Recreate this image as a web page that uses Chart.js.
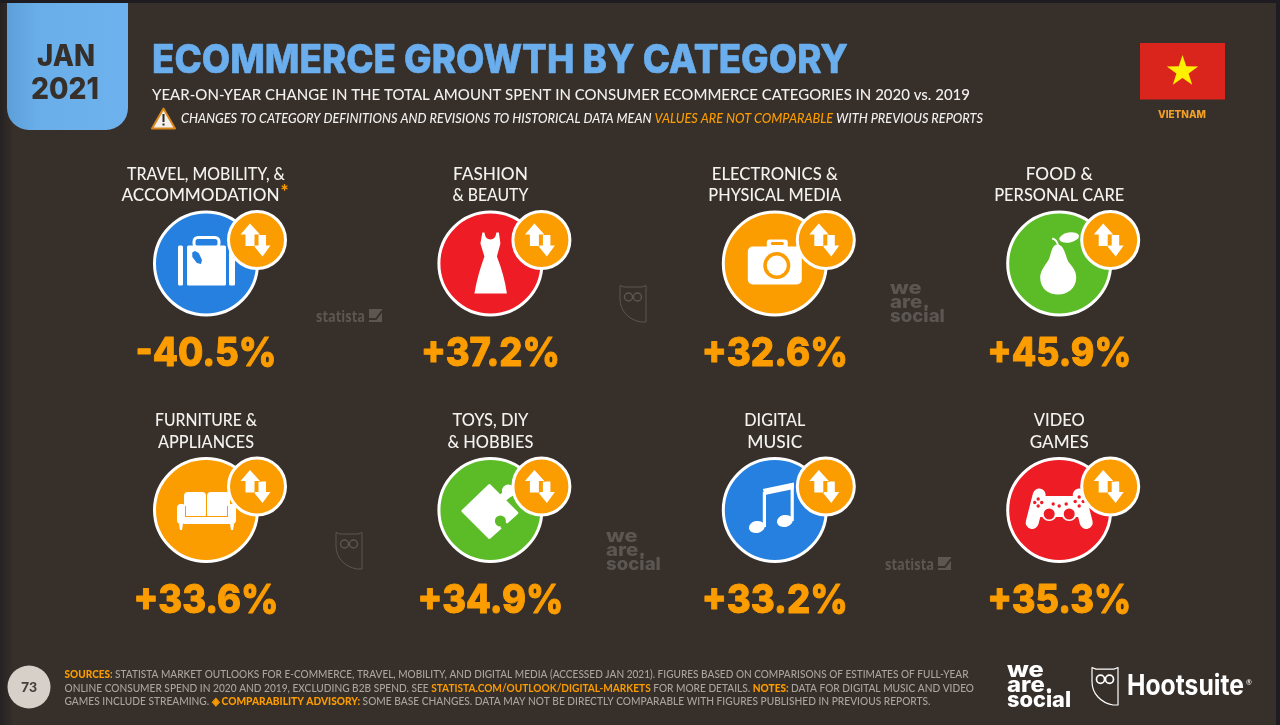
<!DOCTYPE html>
<html>
<head>
<meta charset="utf-8">
<title>Ecommerce growth by category</title>
<script src="https://cdn.jsdelivr.net/npm/chart.js@4/dist/chart.umd.js"></script>
<style>
  html, body { margin: 0; padding: 0; background: #362f2a; overflow: hidden; }
  canvas { display: block; }
</style>
</head>
<body>
<canvas id="growthChart" width="1280" height="725"></canvas>
<script>
// chart data
var categories = [
  ["TRAVEL, MOBILITY, &", "ACCOMMODATION"],
  ["FASHION", "& BEAUTY"],
  ["ELECTRONICS &", "PHYSICAL MEDIA"],
  ["FOOD &", "PERSONAL CARE"],
  ["FURNITURE &", "APPLIANCES"],
  ["TOYS, DIY", "& HOBBIES"],
  ["DIGITAL", "MUSIC"],
  ["VIDEO", "GAMES"]
];
var changeValues = [-40.5, 37.2, 32.6, 45.9, 33.6, 34.9, 33.2, 35.3];
var circleColors = ["#2580e0", "#ee1c24", "#fb9c00", "#5cbc28", "#fb9c00", "#5cbc28", "#2580e0", "#ee1c24"];
var iconNames = ["suitcase", "dress", "camera", "pear", "sofa", "puzzle", "note", "gamepad"];

// text fitting, the fonts here are wider than the original one
var labelWidths = [[158, 158], [75, 76], [126, 133], [67, 130], [102, 96], [76, 86], [61, 55], [51, 59]];
var valueWidths = [141, 139, 146, 144, 145, 146, 146, 144];

var ORANGE = "#fb9c00", BG = "#362f2a", WHITE = "#ffffff", GREY = "#a9a49e", MARK = "#5b5652";
var SANS = "Lato, sans-serif", HEAVY = "Inter, sans-serif";

// grid of the page, one scale unit is one column / row
var COL0 = 206, COL_W = 284.4, ROW0 = 263.5, ROW_H = 246.5;
var BADGE_DX = 51, BADGE_DY = -23.5;

function label(ctx, text, x, y, font, color, align, width, bold) {
  ctx.save();
  ctx.font = font;
  ctx.fillStyle = color;
  ctx.textBaseline = "alphabetic";
  ctx.textAlign = "left";
  var w = ctx.measureText(text).width;
  var k = width ? width / w : 1;
  var left = align === "center" ? x - w * k / 2 : x;
  ctx.translate(left, y);
  ctx.scale(k, 1);
  if (bold) {
    ctx.strokeStyle = color;
    ctx.lineWidth = bold;
    ctx.lineJoin = "round";
    ctx.strokeText(text, 0, 0);
  }
  ctx.fillText(text, 0, 0);
  ctx.restore();
}

// one line with several colours, squeezed to the given width
function richLine(ctx, parts, x, y, width) {
  ctx.save();
  ctx.textBaseline = "alphabetic";
  ctx.textAlign = "left";
  var total = 0;
  parts.forEach(function(p) { ctx.font = p[2]; total += ctx.measureText(p[0]).width; });
  ctx.translate(x, y);
  ctx.scale(width / total, 1);
  var pos = 0;
  parts.forEach(function(p) {
    ctx.font = p[2];
    ctx.fillStyle = p[1];
    ctx.fillText(p[0], pos, 0);
    pos += ctx.measureText(p[0]).width;
  });
  ctx.restore();
}

function poly(ctx, pts) {
  ctx.beginPath();
  pts.forEach(function(p, i) { i ? ctx.lineTo(p[0], p[1]) : ctx.moveTo(p[0], p[1]); });
  ctx.closePath();
}

function rrect(ctx, x, y, w, h, r) {
  ctx.beginPath();
  ctx.roundRect(x, y, w, h, r);
}

var icons = {
  suitcase: function(ctx, color) {
    rrect(ctx, -19, -18, 39, 40, 1.5); ctx.fill();
    rrect(ctx, -28, -18, 5, 40, 1.5); ctx.fill();
    rrect(ctx, 23, -18, 6, 40, 1.5); ctx.fill();
    ctx.strokeStyle = WHITE; ctx.lineWidth = 3;
    rrect(ctx, -12, -26, 25, 10, 4); ctx.stroke();
    ctx.save();
    ctx.fillStyle = color;
    ctx.translate(-9, -6); ctx.rotate(-0.55); ctx.scale(0.75, 0.95);
    ctx.beginPath();
    ctx.moveTo(-2, -7); ctx.lineTo(2, -7); ctx.lineTo(5, -3); ctx.lineTo(4, 5);
    ctx.lineTo(0, 8); ctx.lineTo(-4, 5); ctx.lineTo(-5, -3); ctx.closePath();
    ctx.fill();
    ctx.restore();
  },
  dress: function(ctx) {
    ctx.beginPath();
    ctx.moveTo(-8, -31); ctx.lineTo(-6, -31);
    ctx.quadraticCurveTo(-5, -24, 0, -24);
    ctx.quadraticCurveTo(5, -24, 6, -31);
    ctx.lineTo(8.5, -31); ctx.lineTo(10, -20); ctx.lineTo(6.5, -7);
    ctx.quadraticCurveTo(14, 12, 16.5, 30);
    ctx.lineTo(-16, 30);
    ctx.quadraticCurveTo(-13, 12, -6, -7);
    ctx.lineTo(-10, -20);
    ctx.closePath(); ctx.fill();
  },
  camera: function(ctx, color) {
    rrect(ctx, -27, -17, 54, 38, 5); ctx.fill();
    rrect(ctx, -8, -24, 21, 10, 3); ctx.fill();
    ctx.fillStyle = color;
    rrect(ctx, -4, -21.5, 13, 3, 1.5); ctx.fill();
    ctx.beginPath(); ctx.arc(2, 2, 13.5, 0, Math.PI * 2); ctx.fill();
    ctx.fillStyle = WHITE;
    ctx.beginPath(); ctx.arc(2, 2, 10, 0, Math.PI * 2); ctx.fill();
  },
  pear: function(ctx) {
    ctx.beginPath();
    ctx.moveTo(-2, -19);
    ctx.bezierCurveTo(5, -19, 6, -8, 9, -2);
    ctx.bezierCurveTo(14, 4, 17, 8, 17, 14);
    ctx.bezierCurveTo(17, 25, 8, 31, -1, 31);
    ctx.bezierCurveTo(-11, 31, -19, 25, -19, 14);
    ctx.bezierCurveTo(-19, 8, -15, 3, -11, -3);
    ctx.bezierCurveTo(-8, -8, -8, -19, -2, -19);
    ctx.fill();
    ctx.save();
    ctx.translate(10, -26); ctx.rotate(-0.2);
    ctx.beginPath(); ctx.ellipse(0, 0, 10, 5, 0, 0, Math.PI * 2); ctx.fill();
    ctx.restore();
    ctx.strokeStyle = WHITE; ctx.lineWidth = 1.8;
    ctx.beginPath(); ctx.moveTo(-7, -25); ctx.quadraticCurveTo(-2, -24, -1, -17); ctx.stroke();
  },
  sofa: function(ctx, color) {
    rrect(ctx, -22, -18, 22, 26, 4); ctx.fill();
    rrect(ctx, 1, -18, 23, 26, 4); ctx.fill();
    rrect(ctx, -29, -6, 9, 20, 4); ctx.fill();
    rrect(ctx, 21, -6, 9, 20, 4); ctx.fill();
    ctx.fillRect(-22, 7, 46, 7);
    ctx.strokeStyle = color; ctx.lineWidth = 1;
    ctx.beginPath();
    ctx.moveTo(-20, 6.5); ctx.lineTo(21, 6.5);
    ctx.moveTo(-20.5, -4); ctx.lineTo(-20.5, 7);
    ctx.moveTo(21.5, -4); ctx.lineTo(21.5, 7);
    ctx.stroke();
    poly(ctx, [[-27, 14], [-23, 14], [-24, 20], [-26, 20]]); ctx.fill();
    poly(ctx, [[24, 14], [28, 14], [27, 20], [25, 20]]); ctx.fill();
  },
  puzzle: function(ctx, color) {
    ctx.lineJoin = "round"; ctx.strokeStyle = WHITE; ctx.lineWidth = 3;
    poly(ctx, [[-27.5, 1], [-1, -24.5], [26.5, 3], [-1, 27.5]]); ctx.fill(); ctx.stroke();
    ctx.beginPath(); ctx.arc(18, -19, 6.5, 0, Math.PI * 2); ctx.fill();
    poly(ctx, [[9, -15], [15, -20], [20, -13], [14, -8]]); ctx.fill();
    ctx.fillStyle = color;
    ctx.beginPath(); ctx.arc(10, 11, 5.5, 0, Math.PI * 2); ctx.fill();
    poly(ctx, [[10, 17], [15, 12], [22, 19], [16, 25]]); ctx.fill();
  },
  note: function(ctx) {
    ctx.save();
    ctx.translate(-18, 17); ctx.rotate(-0.2);
    ctx.beginPath(); ctx.ellipse(0, 0, 8, 6, 0, 0, Math.PI * 2); ctx.fill();
    ctx.restore();
    ctx.save();
    ctx.translate(10, 11); ctx.rotate(-0.2);
    ctx.beginPath(); ctx.ellipse(0, 0, 8, 6, 0, 0, Math.PI * 2); ctx.fill();
    ctx.restore();
    ctx.fillRect(-12, -18, 3.2, 35);
    ctx.fillRect(15.8, -27, 3.2, 38);
    poly(ctx, [[-12, -21], [19, -27.5], [19, -21], [-10, -15]]); ctx.fill();
  },
  gamepad: function(ctx, color) {
    ctx.lineCap = "round"; ctx.strokeStyle = WHITE; ctx.lineWidth = 13;
    ctx.beginPath(); ctx.moveTo(-20, -15); ctx.lineTo(-27, 12.5); ctx.stroke();
    ctx.beginPath(); ctx.moveTo(20, -15); ctx.lineTo(27, 12.5); ctx.stroke();
    rrect(ctx, -22, -12, 44, 19, 3); ctx.fill();
    ctx.fillRect(-17, -14, 34, 6);
    ctx.fillStyle = WHITE;
    ctx.beginPath(); ctx.arc(-10, 3, 8, 0, Math.PI * 2); ctx.fill();
    ctx.beginPath(); ctx.arc(10, 3, 8, 0, Math.PI * 2); ctx.fill();
    ctx.fillStyle = color;
    [[-10, 4], [10, 4]].forEach(function(p) {
      ctx.beginPath(); ctx.arc(p[0], p[1], 5.5, 0, Math.PI * 2); ctx.fill();
    });
    [[-21, -11], [-21, -4], [-24.5, -7.5], [-17.5, -7.5], [20, -13], [20, -4], [16, -8.5], [24, -8.5], [0, -4], [-6, -6], [7, -6]].forEach(function(p) {
      ctx.beginPath(); ctx.arc(p[0], p[1], 1.7, 0, Math.PI * 2); ctx.fill();
    });
  }
};

function badgeArrows(ctx) {
  ctx.lineJoin = "miter";
  ctx.fillStyle = WHITE;
  ctx.strokeStyle = ORANGE;
  ctx.lineWidth = 1.2;
  poly(ctx, [[1.5, -5], [9, -5], [9, 5.5], [13.5, 5.5], [5.5, 16.5], [-3.5, 5.5], [1.5, 5.5]]);
  ctx.fill();
  poly(ctx, [[-7, -16.5], [3, -5.5], [-2.5, -5.5], [-2.5, 6], [-11.5, 6], [-11.5, -5.5], [-16.5, -5.5]]);
  ctx.stroke(); ctx.fill();
}

function owl(ctx, x, y, w, h, color, lw) {
  ctx.save();
  ctx.translate(x, y);
  ctx.scale(w / 26, h / 37);
  ctx.strokeStyle = color;
  ctx.lineWidth = lw;
  ctx.beginPath();
  ctx.moveTo(0, 0.5); ctx.lineTo(4, 2); ctx.lineTo(22, 2); ctx.lineTo(26, 0.5);
  ctx.lineTo(26, 37); ctx.lineTo(21, 37);
  ctx.bezierCurveTo(9, 35, 0, 26, 0, 14);
  ctx.closePath();
  ctx.stroke();
  ctx.lineWidth = lw * 1.4;
  ctx.beginPath(); ctx.arc(8.5, 12, 4, 0, Math.PI * 2); ctx.stroke();
  ctx.beginPath(); ctx.arc(17.5, 12, 4, 0, Math.PI * 2); ctx.stroke();
  ctx.restore();
}

function weAreSocial(ctx, x, base, size, color, gap) {
  var font = "800 " + size + "px Inter, sans-serif";
  label(ctx, "we", x, base, font, color, "left", size * 1.75);
  label(ctx, "are.", x, base + gap, font, color, "left", size * 2.2);
  label(ctx, "social", x, base + gap * 2, font, color, "left", size * 3.05);
}

function statista(ctx, x, y, color) {
  label(ctx, "statista", x, y, "700 16px 'Open Sans', sans-serif", color, "left", 49);
  ctx.fillStyle = color;
  ctx.fillRect(x + 53, y - 13, 13, 13);
  ctx.strokeStyle = BG; ctx.lineWidth = 2;
  ctx.beginPath();
  ctx.moveTo(x + 53, y - 3); ctx.lineTo(x + 60, y - 3); ctx.lineTo(x + 66, y - 11);
  ctx.stroke();
}

var pagePlugin = {
  id: "page",
  beforeDraw: function(chart) {
    var ctx = chart.ctx;
    ctx.save();
    ctx.fillStyle = BG;
    ctx.fillRect(0, 0, 1280, 725);
    var edge = ctx.createLinearGradient(0, 0, 14, 0);
    edge.addColorStop(0, "#262223");
    edge.addColorStop(1, BG);
    ctx.fillStyle = edge;
    ctx.fillRect(0, 0, 14, 725);
    ctx.fillStyle = "#1e1c21";
    ctx.fillRect(0, 0, 1280, 3);
    ctx.fillRect(1276, 0, 4, 725);

    // date tab
    var tab = ctx.createLinearGradient(7, 0, 128, 0);
    tab.addColorStop(0, "#5c9fd8");
    tab.addColorStop(0.25, "#6aaee9");
    tab.addColorStop(1, "#6db1ee");
    ctx.fillStyle = tab;
    rrect(ctx, 7, 3, 121, 127, [0, 0, 22, 22]);
    ctx.fill();
    label(ctx, "JAN", 66, 66, "800 30px " + HEAVY, BG, "center", 58);
    label(ctx, "2021", 65, 99, "800 30px " + HEAVY, BG, "center", 68);

    // heading
    label(ctx, "ECOMMERCE GROWTH BY CATEGORY", 152, 73, "800 39px " + HEAVY, "#6aaeee", "left", 696, 0.6);
    label(ctx, "YEAR-ON-YEAR CHANGE IN THE TOTAL AMOUNT SPENT IN CONSUMER ECOMMERCE CATEGORIES IN 2020 vs. 2019", 152, 99.5, "500 15.5px " + SANS, "#f2f0ee", "left", 818);
    var it = "italic 500 13.5px " + SANS;
    richLine(ctx, [
      ["CHANGES TO CATEGORY DEFINITIONS AND REVISIONS TO HISTORICAL DATA MEAN ", "#f2f0ee", it],
      ["VALUES ARE NOT COMPARABLE", ORANGE, it],
      [" WITH PREVIOUS REPORTS", "#f2f0ee", it]
    ], 181, 122.7, 802);

    // warning sign
    ctx.lineJoin = "round";
    ctx.fillStyle = "#f4f1ec"; ctx.strokeStyle = "#d9861a"; ctx.lineWidth = 2;
    poly(ctx, [[163.5, 108.5], [175, 128.5], [152, 128.5]]);
    ctx.fill(); ctx.stroke();
    ctx.fillStyle = "#2a2624";
    ctx.fillRect(162.5, 114, 2, 8);
    ctx.fillRect(162.5, 123.5, 2, 2);

    // flag
    ctx.fillStyle = "#da251d";
    ctx.fillRect(1140, 43, 85, 56.5);
    var star = [];
    for (var s = 0; s < 10; s++) {
      var rad = s % 2 ? 6.4 : 16.5, ang = -Math.PI / 2 + s * Math.PI / 5;
      star.push([1182.5 + rad * Math.cos(ang), 71.5 + rad * Math.sin(ang)]);
    }
    ctx.fillStyle = "#fdf000";
    poly(ctx, star); ctx.fill();
    label(ctx, "VIETNAM", 1182, 118, "800 10px " + HEAVY, "#f0a028", "center", 48);

    // watermarks
    statista(ctx, 316, 322, MARK);
    statista(ctx, 885, 570, MARK);
    owl(ctx, 620, 285, 26, 37, MARK, 1);
    owl(ctx, 336, 532, 26, 37, MARK, 1);
    weAreSocial(ctx, 890, 294, 18, MARK, 14);
    weAreSocial(ctx, 606, 542, 18, MARK, 14);

    // footer
    ctx.fillStyle = "#d6d0c8";
    ctx.beginPath(); ctx.arc(29, 687, 21.5, 0, Math.PI * 2); ctx.fill();
    label(ctx, "73", 29, 692, "900 14px " + SANS, "#45403c", "center");
    var n = "500 11px " + SANS, b = "900 11px " + SANS;
    richLine(ctx, [
      ["SOURCES: ", ORANGE, b],
      ["STATISTA MARKET OUTLOOKS FOR E-COMMERCE, TRAVEL, MOBILITY, AND DIGITAL MEDIA (ACCESSED JAN 2021). FIGURES BASED ON COMPARISONS OF ESTIMATES OF FULL-YEAR", GREY, n]
    ], 64.5, 678, 904);
    richLine(ctx, [
      ["ONLINE CONSUMER SPEND IN 2020 AND 2019, EXCLUDING B2B SPEND. SEE ", GREY, n],
      ["STATISTA.COM/OUTLOOK/DIGITAL-MARKETS", ORANGE, "700 11px " + SANS],
      [" FOR MORE DETAILS. ", GREY, n],
      ["NOTES: ", ORANGE, b],
      ["DATA FOR DIGITAL MUSIC AND VIDEO", GREY, n]
    ], 64.5, 692, 909.5);
    richLine(ctx, [
      ["GAMES INCLUDE STREAMING. ", GREY, n],
      ["\u25C8 COMPARABILITY ADVISORY: ", ORANGE, b],
      ["SOME BASE CHANGES. DATA MAY NOT BE DIRECTLY COMPARABLE WITH FIGURES PUBLISHED IN PREVIOUS REPORTS.", GREY, n]
    ], 64.5, 705, 866);

    // logos
    weAreSocial(ctx, 1007, 677, 21, WHITE, 15);
    owl(ctx, 1092, 667, 26, 38, WHITE, 1.2);
    label(ctx, "Hootsuite", 1127, 695, "700 28px Inter, sans-serif", WHITE, "left", 117);
    label(ctx, "\u00AE", 1246, 685, "500 7px " + SANS, WHITE, "left");
    ctx.restore();
  },
  afterDatasetDraw: function(chart, args) {
    var ctx = chart.ctx;
    args.meta.data.forEach(function(pt, i) {
      ctx.save();
      ctx.translate(pt.x, pt.y);
      ctx.fillStyle = WHITE;
      if (args.index === 1) {
        icons[iconNames[i]](ctx, circleColors[i]);
      } else {
        badgeArrows(ctx);
      }
      ctx.restore();
    });
  },
  afterDraw: function(chart) {
    var ctx = chart.ctx, meta = chart.getDatasetMeta(1);
    meta.data.forEach(function(pt, i) {
      categories[i].forEach(function(line, j) {
        // the asterisk of the first category sits after the second line
        var dx = (i === 0 && j === 1) ? -5.5 : 0;
        label(ctx, line, pt.x + dx, pt.y - 84 + j * 21.5, "500 17px " + SANS, "#f4f2ef", "center", labelWidths[i][j]);
      });
      var v = changeValues[i];
      var text = (v > 0 ? "+" : "") + v.toFixed(1) + "%";
      label(ctx, text, pt.x, pt.y + 102.5, "800 40px " + HEAVY, ORANGE, "center", valueWidths[i], 1);
    });
    label(ctx, "*", 280.5, 198, "900 19px " + SANS, ORANGE, "left");
  }
};

var circlePoints = changeValues.map(function(v, i) {
  return { x: i % 4, y: Math.floor(i / 4), r: 51.5 };
});
var badgePoints = changeValues.map(function(v, i) {
  return { x: i % 4 + BADGE_DX / COL_W, y: Math.floor(i / 4) + BADGE_DY / ROW_H, r: 28.5 };
});

new Chart(document.getElementById("growthChart"), {
  type: "bubble",
  data: {
    datasets: [
      { label: "badge", data: badgePoints, backgroundColor: ORANGE, borderColor: WHITE, borderWidth: 3, hoverBorderWidth: 3 },
      { label: "Year-on-year change", data: circlePoints, backgroundColor: circleColors, borderColor: WHITE, borderWidth: 3, hoverBorderWidth: 3 }
    ]
  },
  plugins: [pagePlugin],
  options: {
    responsive: false,
    animation: false,
    devicePixelRatio: 1,
    events: [],
    layout: { padding: 0, autoPadding: false },
    clip: false,
    plugins: { legend: { display: false }, tooltip: { enabled: false } },
    scales: {
      x: { type: "linear", display: false, min: -COL0 / COL_W, max: (1280 - COL0) / COL_W },
      y: { type: "linear", display: false, reverse: true, min: -ROW0 / ROW_H, max: (725 - ROW0) / ROW_H }
    }
  }
});
</script>
</body>
</html>
